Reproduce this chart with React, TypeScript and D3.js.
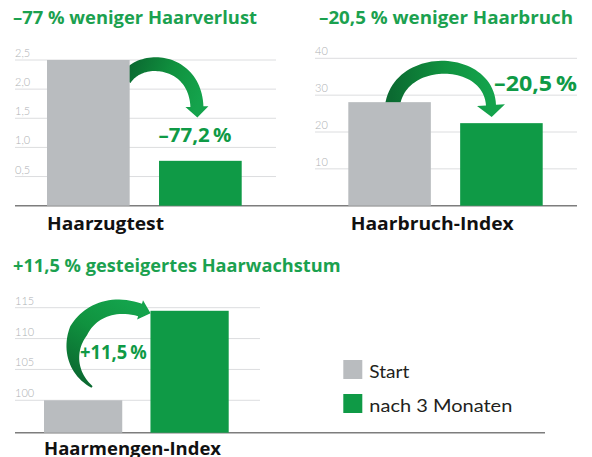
import React from "react";
import * as d3 from "d3";

const categories = ["Start", "nach 3 Monaten"];
const haarzugValues = [2.5, 0.77];
const haarbruchValues = [28.1, 22.4];
const haarmengenValues = [100, 114.5];
const haarzugTicks = [0.5, 1.0, 1.5, 2.0, 2.5];
const haarbruchTicks = [10, 20, 30, 40];
const haarmengenTicks = [100, 105, 110, 115];
const titles = ["–77 % weniger Haarverlust", "–20,5 % weniger Haarbruch", "+11,5 % gesteigertes Haarwachstum"];
const changeLabels = ["–77,2\u2009%", "–20,5\u2009%", "+11,5\u2009%"];
const panelNames = ["Haarzugtest", "Haarbruch-Index", "Haarmengen-Index"];

const W = 592;
const H = 457;
const GREEN = "#0f9a46";
const GRAY = "#b9bcbf";
const TITLE_GREEN = "#1ba14f";
const fmt = (v: number, dec: number) => v.toFixed(dec).replace(".", ",");

type Pt = [number, number];

function arrowPath(pts: Pt[], widths: number[], headW: number, headL: number) {
  const [p0, p1, p2, p3] = pts;
  const B = (t: number): Pt => {
    const m = 1 - t;
    return [
      m * m * m * p0[0] + 3 * m * m * t * p1[0] + 3 * m * t * t * p2[0] + t * t * t * p3[0],
      m * m * m * p0[1] + 3 * m * m * t * p1[1] + 3 * m * t * t * p2[1] + t * t * t * p3[1],
    ];
  };
  const D = (t: number): Pt => {
    const m = 1 - t;
    const dx = 3 * m * m * (p1[0] - p0[0]) + 6 * m * t * (p2[0] - p1[0]) + 3 * t * t * (p3[0] - p2[0]);
    const dy = 3 * m * m * (p1[1] - p0[1]) + 6 * m * t * (p2[1] - p1[1]) + 3 * t * t * (p3[1] - p2[1]);
    const l = Math.hypot(dx, dy) || 1;
    return [dx / l, dy / l];
  };
  const wAt = (t: number) =>
    t < 0.5 ? widths[0] + (widths[1] - widths[0]) * t * 2 : widths[1] + (widths[2] - widths[1]) * (t - 0.5) * 2;
  const N = 48;
  const left: Pt[] = [];
  const right: Pt[] = [];
  for (let i = 0; i <= N; i++) {
    const t = i / N;
    const b = B(t);
    const d = D(t);
    const n: Pt = [-d[1], d[0]];
    const w = wAt(t) / 2;
    left.push([b[0] + n[0] * w, b[1] + n[1] * w]);
    right.push([b[0] - n[0] * w, b[1] - n[1] * w]);
  }
  const d = D(1);
  const n: Pt = [-d[1], d[0]];
  const p = d3.path();
  p.moveTo(left[0][0], left[0][1]);
  left.forEach((q) => p.lineTo(q[0], q[1]));
  p.lineTo(p3[0] + n[0] * headW / 2, p3[1] + n[1] * headW / 2);
  p.lineTo(p3[0] + d[0] * headL, p3[1] + d[1] * headL);
  p.lineTo(p3[0] - n[0] * headW / 2, p3[1] - n[1] * headW / 2);
  for (let i = right.length - 1; i >= 0; i--) p.lineTo(right[i][0], right[i][1]);
  p.closePath();
  return p.toString();
}

type Panel = {
  values: number[];
  ticks: number[];
  dec: number;
  yDomain: [number, number];
  yRange: [number, number];
  xRange: [number, number];
  pad: number;
  gridX: [number, number];
  title: string;
  titlePos: [number, number, number];
  label: string;
  labelPos: [number, number, number, number];
  name: string;
  namePos: [number, number, number];
  arrow: Pt[]; // in (u, value) units
  arrowW: number[];
  headW: number;
  headL: number;
};

const panels: Panel[] = [
  {
    values: haarzugValues, ticks: haarzugTicks, dec: 1,
    yDomain: [0, 2.5], yRange: [205.7, 60], xRange: [47, 241.7], pad: 0.262, gridX: [15, 276],
    title: titles[0], titlePos: [13, 24, 244],
    label: changeLabels[0], labelPos: [158.5, 141.7, 73, 19.5],
    name: panelNames[0], namePos: [47, 230, 117],
    arrow: [[0.4, 2.16], [0.478, 2.61], [0.76, 2.52], [0.77, 1.7]], arrowW: [13, 14, 13], headW: 23, headL: 11,
  },
  {
    values: haarbruchValues, ticks: haarbruchTicks, dec: 0,
    yDomain: [0, 40], yRange: [205.7, 58.3], xRange: [348.3, 542.7], pad: 0.262, gridX: [315, 577],
    title: titles[1], titlePos: [319, 24, 254],
    label: changeLabels[1], labelPos: [494, 90.7, 83, 20.5],
    name: panelNames[1], namePos: [350.7, 230, 163],
    arrow: [[0.225, 26.0], [0.24, 41.2], [0.719, 41.2], [0.734, 27.3]], arrowW: [15, 13, 10], headW: 28, headL: 12,
  },
  {
    values: haarmengenValues, ticks: haarmengenTicks, dec: 0,
    yDomain: [94.75, 115], yRange: [432.7, 307.7], xRange: [44, 228.7], pad: 0.265, gridX: [15, 260],
    title: titles[2], titlePos: [13, 271.7, 327.5],
    label: changeLabels[2], labelPos: [80, 359, 66.7, 19.5],
    name: panelNames[2], namePos: [44, 455, 177],
    arrow: [[0.26, 102.16], [0.04, 106.8], [0.2, 117.6], [0.52, 114.64]], arrowW: [2, 19, 13], headW: 20, headL: 11,
  },
];

const FONT = "'Open Sans', 'Noto Sans', sans-serif";
const legendWidths = [40, 143];

export default function App() {
  return (
    <svg width={W} height={H} viewBox={`0 0 ${W} ${H}`} style={{ position: "absolute", left: 0, top: 0, background: "#fff" }}>
      <defs>
        {panels.map((pn, i) => {
          const x = d3.scaleLinear().domain([0, 1]).range(pn.xRange);
          const y = d3.scaleLinear().domain(pn.yDomain).range(pn.yRange);
          const a = pn.arrow;
          return (
            <linearGradient key={i} id={`ag${i}`} gradientUnits="userSpaceOnUse"
              x1={x(a[0][0])} y1={y(a[0][1])} x2={x(a[3][0])} y2={y(a[3][1])}>
              <stop offset="0" stopColor="#0b6a31" />
              <stop offset="0.55" stopColor="#10923f" />
              <stop offset="1" stopColor="#14a34c" />
            </linearGradient>
          );
        })}
      </defs>
      {/* baselines */}
      <line x1={15} x2={577} y1={205.7} y2={205.7} stroke="#7d7d7d" strokeWidth={1.5} />
      <line x1={15} x2={545} y1={432.7} y2={432.7} stroke="#7d7d7d" strokeWidth={1.5} />
      {panels.map((pn, i) => {
        const y = d3.scaleLinear().domain(pn.yDomain).range(pn.yRange);
        const xb = d3.scaleBand<string>().domain(categories).range(pn.xRange).paddingInner(pn.pad).paddingOuter(0);
        const xl = d3.scaleLinear().domain([0, 1]).range(pn.xRange);
        const pts: Pt[] = pn.arrow.map((q) => [xl(q[0]), y(q[1])] as Pt);
        return (
          <g key={i}>
            <text x={pn.titlePos[0]} y={pn.titlePos[1]} fill={TITLE_GREEN} fontFamily={FONT} fontWeight={700}
              fontSize={17} textLength={pn.titlePos[2]} lengthAdjust="spacingAndGlyphs">{pn.title}</text>
            {pn.ticks.map((t) => (
              <g key={t}>
                <line x1={pn.gridX[0]} x2={pn.gridX[1]} y1={y(t)} y2={y(t)} stroke="#dcdddf" strokeWidth={1} />
                <text x={pn.gridX[0]} y={y(t) - 3} fill="#aeb1b4" fontFamily="Lato, sans-serif" fontWeight={300} fontSize={11}>
                  {fmt(t, pn.dec)}
                </text>
              </g>
            ))}
            <path d={arrowPath(pts, pn.arrowW, pn.headW, pn.headL)} fill={`url(#ag${i})`} />
            {categories.map((c, j) => (
              <rect key={c} x={xb(c)} width={xb.bandwidth()} y={y(pn.values[j])}
                height={pn.yRange[0] - y(pn.values[j])} fill={j === 0 ? GRAY : GREEN} />
            ))}
            <text x={pn.labelPos[0]} y={pn.labelPos[1]} fill={GREEN} fontFamily={FONT} fontWeight={700}
              fontSize={pn.labelPos[3]} textLength={pn.labelPos[2]} lengthAdjust="spacingAndGlyphs">{pn.label}</text>
            <text x={pn.namePos[0]} y={pn.namePos[1]} fill="#111" fontFamily={FONT} fontWeight={700}
              fontSize={18} textLength={pn.namePos[2]} lengthAdjust="spacingAndGlyphs">{pn.name}</text>
          </g>
        );
      })}
      {/* legend */}
      {categories.map((c, j) => (
        <g key={c}>
          <rect x={343.3} y={360 + j * 34} width={19} height={19} fill={j === 0 ? GRAY : GREEN} />
          <text x={369.3} y={378.3 + j * 34} fill="#231f20" fontFamily="Lato, sans-serif" fontSize={18}
            textLength={legendWidths[j]} lengthAdjust="spacingAndGlyphs">{c}</text>
        </g>
      ))}
    </svg>
  );
}
